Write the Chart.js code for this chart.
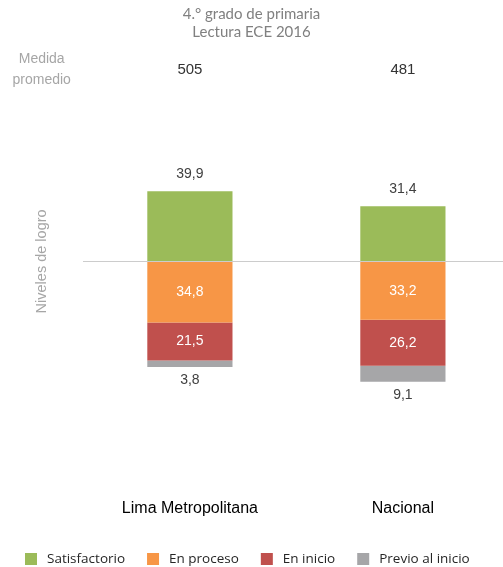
<!DOCTYPE html>
<html>
<head>
<meta charset="utf-8">
<script src="https://cdn.jsdelivr.net/npm/chart.js@4.4.0/dist/chart.umd.min.js"></script>
<style>
html, body { margin: 0; padding: 0; background: #fff; overflow: hidden; }
#wrap { width: 503px; height: 567px; }
</style>
</head>
<body>
<div id="wrap"><canvas id="ece"></canvas></div>
<script>
// datos
const regiones = ['Lima Metropolitana', 'Nacional'];
const medida = [505, 481];
const niveles = ['Satisfactorio', 'En proceso', 'En inicio', 'Previo al inicio'];
const satisfactorio = [39.9, 31.4];
const enProceso = [34.8, 33.2];
const enInicio = [21.5, 26.2];
const previo = [3.8, 9.1];
const colores = ['#9bbb59', '#f79646', '#c0504d', '#a6a6a8'];

const series = [satisfactorio, enProceso, enInicio, previo];
const arial = '"Liberation Sans", Arial, sans-serif';
Chart.defaults.font.family = arial;

// satisfactorio hacia arriba, el resto hacia abajo
const datasets = series.map((vals, k) => ({
    label: niveles[k],
    data: vals.map((v, i) => ({ x: i + 0.5, y: k === 0 ? v : -v })),
    backgroundColor: colores[k],
    stack: 'logro',
    barPercentage: 0.4,
    categoryPercentage: 1,
    borderWidth: 0
}));

const coma = v => v.toFixed(1).replace('.', ',');

const extras = {
    id: 'extras',
    afterDatasetsDraw(chart) {
        const ctx = chart.ctx;
        ctx.save();
        ctx.textAlign = 'center';
        ctx.textBaseline = 'middle';
        ctx.font = '14px ' + arial;
        series.forEach((vals, k) => {
            chart.getDatasetMeta(k).data.forEach((bar, i) => {
                let y, color = '#404040';
                if (k === 0) y = bar.y - 17;
                else if (k === series.length - 1) y = bar.y + 13;
                else { y = (bar.y + bar.base) / 2; color = '#ffffff'; }
                ctx.fillStyle = color;
                ctx.fillText(coma(vals[i]), bar.x, y);
            });
        });
        ctx.restore();
    },
    afterDraw(chart) {
        const ctx = chart.ctx;
        const xs = chart.scales.x;
        ctx.save();
        ctx.textAlign = 'center';
        ctx.textBaseline = 'middle';

        // titulo
        ctx.fillStyle = '#808080';
        ctx.font = '15px Lato, sans-serif';
        ctx.fillText('4.\u00b0 grado de primaria', chart.width / 2, 14);
        ctx.fillText('Lectura ECE 2016', chart.width / 2, 32);

        // medida promedio
        const mx = chart.chartArea.left / 2;
        ctx.fillStyle = '#a6a6a6';
        ctx.font = '14px ' + arial;
        ctx.fillText('Medida', mx, 59);
        ctx.fillText('promedio', mx, 80);
        ctx.fillStyle = '#333333';
        ctx.font = '15px ' + arial;
        medida.forEach((m, i) => ctx.fillText(String(m), xs.getPixelForValue(i + 0.5), 70));

        // leyenda
        ctx.font = '13.5px "Open Sans", sans-serif';
        ctx.textAlign = 'left';
        let x = 25;
        const y = 559;
        niveles.forEach((n, k) => {
            ctx.fillStyle = colores[k];
            ctx.fillRect(x, y - 6, 12, 12);
            ctx.fillStyle = '#262626';
            ctx.fillText(n, x + 22, y + 0.5);
            x += 22 + ctx.measureText(n).width + 22;
        });
        ctx.restore();
    }
};

new Chart(document.getElementById('ece'), {
    type: 'bar',
    data: { datasets },
    plugins: [extras],
    options: {
        responsive: true,
        maintainAspectRatio: false,
        animation: false,
        layout: { padding: { top: 27, bottom: 46, left: 0, right: 0 } },
        plugins: {
            legend: { display: false },
            tooltip: { enabled: false }
        },
        scales: {
            x: {
                type: 'linear',
                offset: false,
                min: 0,
                max: 1.97,
                stacked: true,
                afterBuildTicks: s => { s.ticks = regiones.map((r, i) => ({ value: i + 0.5 })); },
                ticks: {
                    padding: 3,
                    color: '#000000',
                    maxRotation: 0,
                    autoSkip: false,
                    font: { size: 16 },
                    callback: (v, i) => regiones[i]
                },
                grid: { display: false, drawTicks: false, offset: false },
                border: { display: false }
            },
            y: {
                min: -133.3,
                max: 133.3,
                stacked: true,
                z: 1,
                afterBuildTicks: s => { s.ticks = [{ value: 0 }]; },
                ticks: { display: false },
                grid: { color: 'rgba(110,110,110,0.35)', lineWidth: 1, drawTicks: false },
                border: { display: false },
                title: {
                    display: true,
                    text: 'Niveles de logro',
                    color: '#a6a6a6',
                    font: { size: 14.5 },
                    padding: { top: 33, bottom: 33 }
                }
            }
        }
    }
});
</script>
</body>
</html>
